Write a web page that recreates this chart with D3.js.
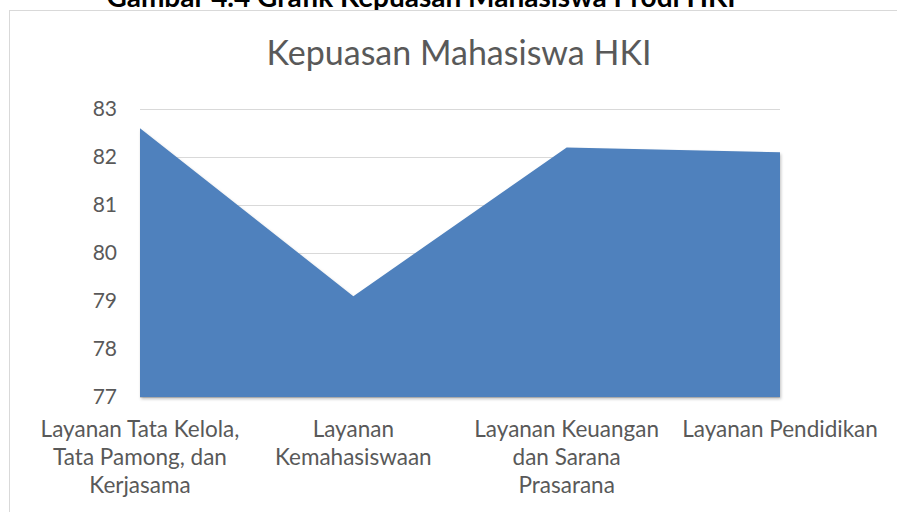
<!DOCTYPE html>
<html>
<head>
<meta charset="utf-8">
<script src="https://cdnjs.cloudflare.com/ajax/libs/d3/7.8.5/d3.min.js"></script>
<style>
  body { margin: 0; background: #fff; }
  svg { display: block; font-family: Lato, "Open Sans", sans-serif; }
</style>
</head>
<body>
<svg id="svg1" width="897" height="512"></svg>
<script>
// data
var categories = [
    ['Layanan Tata Kelola,', 'Tata Pamong, dan', 'Kerjasama'],
    ['Layanan', 'Kemahasiswaan'],
    ['Layanan Keuangan', 'dan Sarana', 'Prasarana'],
    ['Layanan Pendidikan']
];
var values = [82.6, 79.1, 82.2, 82.1];
var yTicks = [77, 78, 79, 80, 81, 82, 83];

var svg = d3.select('#svg1');
var plotLeft = 140, plotRight = 780, plotTop = 109, plotBottom = 397;

// caption, cut off at the top in the source
svg.append('text')
    .attr('x', 421).attr('y', 6.5)
    .attr('text-anchor', 'middle')
    .attr('font-weight', 'bold')
    .attr('font-size', 28)
    .attr('fill', '#000')
    .text('Gambar 4.4 Grafik Kepuasan Mahasiswa Prodi HKI');

// chart frame
svg.append('rect')
    .attr('x', 9.5).attr('y', 10.5)
    .attr('width', 900).attr('height', 520)
    .attr('fill', '#fff')
    .attr('stroke', '#d9d9d9')
    .attr('stroke-width', 1);

var x = d3.scalePoint()
    .domain(d3.range(categories.length))
    .range([plotLeft, plotRight]);

var y = d3.scaleLinear()
    .domain([77, 83])
    .range([plotBottom, plotTop]);

// gridlines
svg.append('g')
    .selectAll('line')
    .data(yTicks)
    .enter().append('line')
    .attr('x1', plotLeft).attr('x2', plotRight)
    .attr('y1', function (d) { return Math.round(y(d)) + 0.5; })
    .attr('y2', function (d) { return Math.round(y(d)) + 0.5; })
    .attr('stroke', '#d9d9d9')
    .attr('stroke-width', 1);

// shadow
var defs = svg.append('defs');
var f = defs.append('filter').attr('id', 'shadow')
    .attr('x', '-5%').attr('y', '-5%').attr('width', '110%').attr('height', '110%');
f.append('feDropShadow')
    .attr('dx', 1).attr('dy', 2).attr('stdDeviation', 1.5)
    .attr('flood-color', '#000').attr('flood-opacity', 0.25);

var area = d3.area()
    .x(function (d, i) { return x(i); })
    .y0(y(77))
    .y1(function (d) { return y(d); });

svg.append('path')
    .datum(values)
    .attr('d', area)
    .attr('fill', '#4f81bd')
    .attr('filter', 'url(#shadow)');

// y axis labels
var yAxis = d3.axisLeft(y).tickValues(yTicks).tickFormat(d3.format('d')).tickSize(0).tickPadding(23);
var gy = svg.append('g')
    .attr('transform', 'translate(' + plotLeft + ',0)')
    .call(yAxis);
gy.select('.domain').remove();
gy.selectAll('text')
    .attr('font-family', 'Lato, sans-serif')
    .attr('font-size', 21)
    .attr('fill', '#595959');

// x axis labels
var xg = svg.append('g');
categories.forEach(function (lines, i) {
    var t = xg.append('text')
        .attr('x', x(i))
        .attr('y', 437)
        .attr('text-anchor', 'middle')
        .attr('font-size', 22.5)
        .attr('fill', '#595959');
    lines.forEach(function (l, j) {
        t.append('tspan')
            .attr('x', x(i))
            .attr('dy', j == 0 ? 0 : 28)
            .text(l);
    });
});

// title
svg.append('text')
    .attr('x', 459).attr('y', 65)
    .attr('text-anchor', 'middle')
    .attr('font-size', 34)
    .attr('fill', '#595959')
    .text('Kepuasan Mahasiswa HKI');
</script>
</body>
</html>
